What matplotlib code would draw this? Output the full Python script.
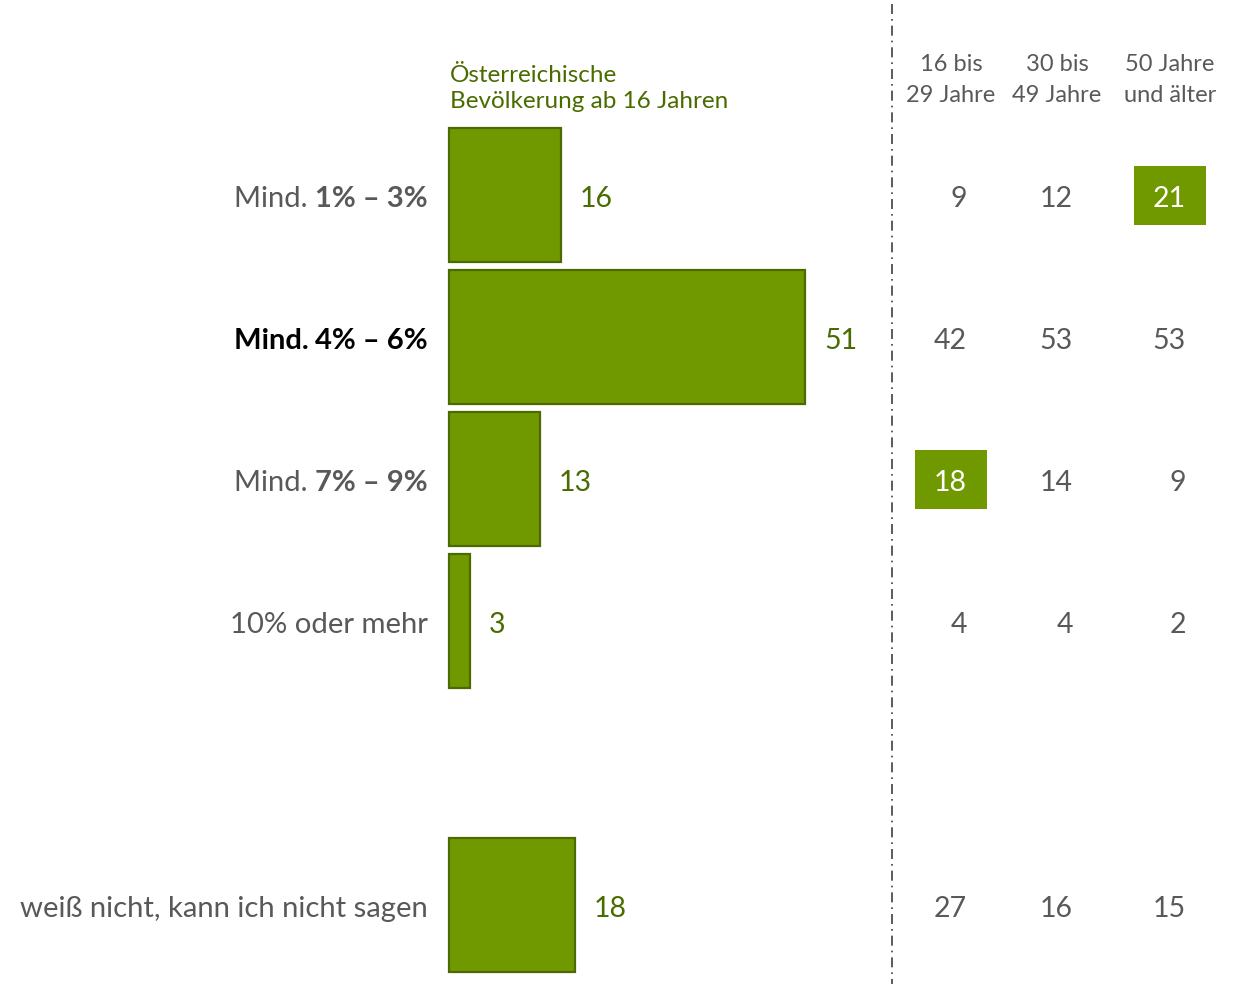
import matplotlib
matplotlib.use("Agg")
import matplotlib.pyplot as plt
from matplotlib.patches import Rectangle

# survey answers (percent), row index 4 left empty as a spacer
categories = ["1% – 3%", "4% – 6%", "7% – 9%", "10% oder mehr", "weiß nicht, kann ich nicht sagen"]
prefixes = ["Mind. ", "Mind. ", "Mind. ", "", ""]
rows = [0, 1, 2, 3, 5]
total = [16, 51, 13, 3, 18]
age_groups = ["16 bis\n29 Jahre", "30 bis\n49 Jahre", "50 Jahre\nund älter"]
by_age = [
    [9, 12, 21],
    [42, 53, 53],
    [18, 14, 9],
    [4, 4, 2],
    [27, 16, 15],
]
highlight = [(0, 2), (2, 0)]
header = "Österreichische\nBevölkerung ab 16 Jahren"

BAR = "#709900"
EDGE = "#4d6a00"
DARK = "#4a6b00"
GREY = "#595959"
FONT = "Lato"

W, H = 1233, 987
PX = 6.98  # pixels per percent point
DY = 3 / 142  # nudge text down onto the row centre
fig = plt.figure(figsize=(W / 100, H / 100), dpi=100)
ax = fig.add_axes([0, 0, 1, 1])
ax.set_xlim(-449 / PX, (W - 449) / PX)
ax.set_ylim((H - 196) / 142, -196 / 142)
ax.axis("off")

ax.barh(rows, total, height=0.95, left=0, color=BAR, edgecolor=EDGE, linewidth=1.6)
for r, v in zip(rows, total):
    ax.text(v + 19 / PX, r + DY, str(v), ha="left", va="center", color=DARK,
            fontsize=20.5, family=FONT)

# category labels; the middle row is emphasised in black
fig.canvas.draw()
renderer = fig.canvas.get_renderer()
lab_x = -21 / PX
for i, (r, cat, pre) in enumerate(zip(rows, categories, prefixes)):
    color = "black" if i == 1 else GREY
    if pre:
        t = ax.text(lab_x, r + DY, cat, ha="right", va="center", color=color,
                    fontsize=21, family=FONT, fontweight="bold")
        bb = t.get_window_extent(renderer)
        left = ax.transData.inverted().transform((bb.x0, 0))[0]
        ax.text(left, r + DY, pre, ha="right", va="center", color=color, fontsize=21,
                family=FONT, fontweight="bold" if i == 1 else "normal")
    else:
        ax.text(lab_x, r + DY, cat, ha="right", va="center", color=color,
                fontsize=21.1, family=FONT)

ax.text(1 / PX, -0.757, header, ha="left", va="center", color=DARK,
        fontsize=17.5, family=FONT, linespacing=1.3)

# separator between total and age breakdown
sep_x = (892 - 449) / PX
ax.plot([sep_x, sep_x], [(5 - 196) / 142, (985 - 196) / 142], color="#404040",
        linewidth=1.2, linestyle=(0, (6, 3, 1, 3)))

col_centers = [(c - 449) / PX for c in (951, 1057, 1170)]
for c, name in zip(col_centers, age_groups):
    ax.text(c, -0.817, name, ha="center", va="center", color=GREY,
            fontsize=17, family=FONT, linespacing=1.55)

box_w, box_h = 72 / PX, 59 / 142
for i, r in enumerate(rows):
    for j, c in enumerate(col_centers):
        hot = (i, j) in highlight
        if hot:
            ax.add_patch(Rectangle((c - box_w / 2, r - box_h / 2), box_w, box_h,
                                   facecolor=BAR, edgecolor="none"))
        ax.text(c + 16 / PX, r + DY, str(by_age[i][j]), ha="right", va="center",
                color="white" if hot else GREY, fontsize=20.5, family=FONT)

fig.savefig("out.png", dpi=100, facecolor="white")
